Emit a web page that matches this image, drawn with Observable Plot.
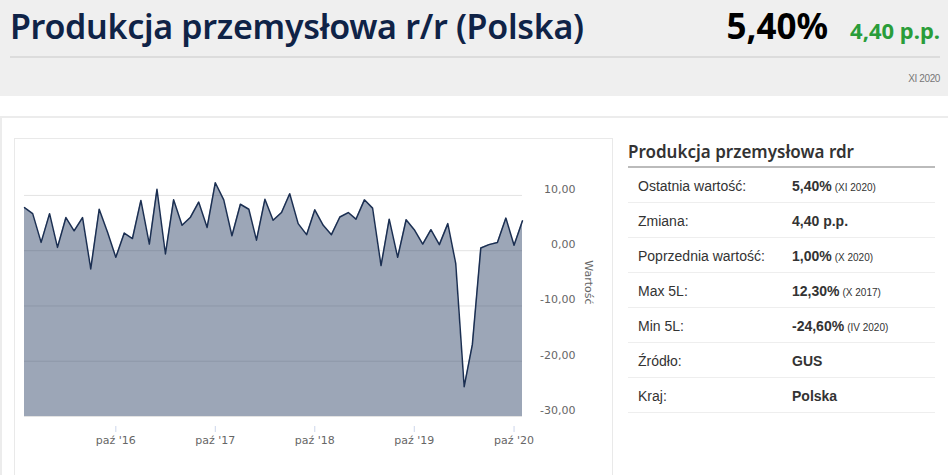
<!DOCTYPE html>
<html><head><meta charset="utf-8">
<script src="https://cdn.jsdelivr.net/npm/d3@7"></script>
<script src="https://cdn.jsdelivr.net/npm/@observablehq/plot@0.6"></script>
<style>
html,body{margin:0;padding:0;background:#fff;width:948px;height:475px;overflow:hidden;position:relative;}
.abs{position:absolute;}
#head{left:0;top:0;width:948px;height:96px;background:#efefef;}
#title{left:10px;top:3px;font-family:"Noto Sans";font-weight:600;font-size:34px;color:#0f2347;white-space:nowrap;letter-spacing:-0.3px;}
#big{right:120px;top:2px;font-family:"Noto Sans";font-weight:700;font-size:35px;color:#000;white-space:nowrap;}
#chg{right:8px;top:15px;font-family:"Noto Sans";font-weight:700;font-size:22px;color:#2a9d3a;white-space:nowrap;}
#hline{left:10px;top:56px;width:930px;height:2px;background:#dcdcdc;}
#date{right:8px;top:73px;font-family:"Liberation Sans";font-size:10px;color:#777;letter-spacing:-0.4px;}
#cont{left:0;top:116px;width:990px;height:420px;border:2px solid #ececec;box-sizing:border-box;}
#cbox{left:14px;top:138px;width:599px;height:360px;border:1px solid #e9e9e9;box-sizing:border-box;}
#chart{left:15px;top:139px;}
#ytitle{left:558px;top:276px;width:60px;text-align:center;font-family:"DejaVu Sans";font-size:11px;color:#666;transform:rotate(90deg);transform-origin:center;}
#tbl{left:628px;top:140px;width:307px;font-family:"Liberation Sans";color:#333;}
#ttitle{font-family:"Noto Sans";font-weight:600;font-size:17px;color:#333;height:26px;line-height:24px;border-bottom:2px solid #bbb;white-space:nowrap;}
.row{height:34px;border-bottom:1px solid #eee;position:relative;font-size:14px;}
.row .l{position:absolute;left:10px;top:10px;}
.row .v{position:absolute;left:164px;top:10px;font-weight:bold;white-space:nowrap;}
.row .v small{font-weight:normal;font-size:10px;margin-left:3px;}
</style></head>
<body>
<div id="head" class="abs"></div>
<div id="title" class="abs">Produkcja przemysłowa r/r (Polska)</div>
<div id="big" class="abs">5,40%</div>
<div id="chg" class="abs">4,40 p.p.</div>
<div id="hline" class="abs"></div>
<div id="date" class="abs">XI 2020</div>
<div id="cont" class="abs"></div>
<div id="cbox" class="abs"></div>
<div id="chart" class="abs"></div>
<div id="ytitle" class="abs">Wartość</div>
<div id="tbl" class="abs"></div>
<script>
const months = ["2015-11","2015-12",
"2016-01","2016-02","2016-03","2016-04","2016-05","2016-06","2016-07","2016-08","2016-09","2016-10","2016-11","2016-12",
"2017-01","2017-02","2017-03","2017-04","2017-05","2017-06","2017-07","2017-08","2017-09","2017-10","2017-11","2017-12",
"2018-01","2018-02","2018-03","2018-04","2018-05","2018-06","2018-07","2018-08","2018-09","2018-10","2018-11","2018-12",
"2019-01","2019-02","2019-03","2019-04","2019-05","2019-06","2019-07","2019-08","2019-09","2019-10","2019-11","2019-12",
"2020-01","2020-02","2020-03","2020-04","2020-05","2020-06","2020-07","2020-08","2020-09","2020-10","2020-11"];
const values = [7.8,6.7,
1.5,6.7,0.6,6.0,3.6,6.0,-3.3,7.5,3.3,-1.2,3.2,2.2,
9.1,1.2,11.1,-0.6,9.2,4.6,6.0,8.8,4.2,12.3,9.2,2.7,
8.4,7.5,1.9,9.3,5.5,6.9,10.3,4.9,2.9,7.4,4.6,2.9,
6.1,6.9,5.7,9.2,7.7,-2.7,5.7,-1.2,5.6,3.8,1.2,3.8,
1.1,4.9,-2.3,-24.6,-17.0,0.5,1.1,1.5,5.9,1.0,5.4];
const xTickMonths = ["2016-10","2017-10","2018-10","2019-10","2020-10"];
const xTickLabels = ["paź '16","paź '17","paź '18","paź '19","paź '20"];
const yTicks = [-30,-20,-10,0,10];
const yBase = -30;
const yTop = 16.5;

const tableLabels = ["Ostatnia wartość:","Zmiana:","Poprzednia wartość:","Max 5L:","Min 5L:","Źródło:","Kraj:"];
const tableValues = ["5,40%","4,40 p.p.","1,00%","12,30%","-24,60%","GUS","Polska"];
const tableNotes = ["(XI 2020)","","(X 2020)","(X 2017)","(IV 2020)","",""];

const parse = d3.utcParse("%Y-%m");
const data = months.map((m,i)=>({date: parse(m), value: values[i]}));
const xTicks = xTickMonths.map(parse);
const fmtY = d => d.toFixed(2).replace(".", ",");

const chart = Plot.plot({
  width: 596, height: 330,
  marginLeft: 9, marginRight: 89, marginTop: 20, marginBottom: 53,
  style: {background: "transparent", fontFamily: "DejaVu Sans", fontSize: "11px"},
  x: {type: "utc", domain: [data[0].date, data[data.length-1].date]},
  y: {domain: [yBase, yTop]},
  marks: [
    Plot.ruleY(yTicks, {stroke: "#e3e3e3", strokeWidth: 1}),
    Plot.areaY(data, {x: "date", y1: yBase, y2: "value", fill: "#233a60", fillOpacity: 0.45}),
    Plot.lineY(data, {x: "date", y: "value", stroke: "#1b2f52", strokeWidth: 1.5}),
    Plot.axisX(xTicks, {tickSize: 16, tickPadding: 4, stroke: "#ccd6eb", strokeDasharray: "0,10,6,40",
      fill: "#666", fontSize: 11, tickFormat: (d,i) => xTickLabels[i], label: null}),
    Plot.axisY(yTicks, {anchor: "right", tickSize: 0, tickPadding: 53, textAnchor: "end", dy: -6,
      fill: "#666", fontSize: 11, tickFormat: fmtY, label: null})
  ]
});
document.getElementById("chart").appendChild(chart);

const tbl = document.getElementById("tbl");
let html = '<div id="ttitle">Produkcja przemysłowa rdr</div>';
tableLabels.forEach((l,i)=>{
  html += `<div class="row"><span class="l">${l}</span><span class="v">${tableValues[i]}${tableNotes[i] ? `<small>${tableNotes[i]}</small>` : ""}</span></div>`;
});
tbl.innerHTML = html;
</script>
</body></html>
